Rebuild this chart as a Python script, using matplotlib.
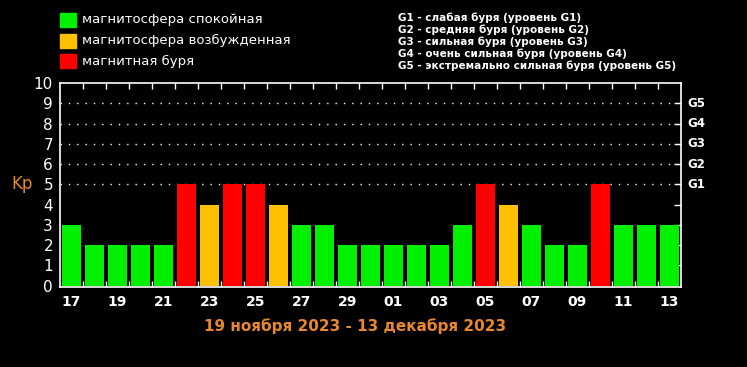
"""Kp index bar chart, 17 Nov - 13 Dec 2023."""

import matplotlib

matplotlib.use("Agg")
import matplotlib.pyplot as plt
from matplotlib.patches import Rectangle
from matplotlib.transforms import blended_transform_factory

days = ["17", "18", "19", "20", "21", "22", "23", "24", "25", "26", "27", "28", "29", "30",
        "01", "02", "03", "04", "05", "06", "07", "08", "09", "10", "11", "12", "13"]
kp = [3, 2, 2, 2, 2, 5, 4, 5, 5, 4, 3, 3, 2, 2,
      2, 2, 2, 3, 5, 4, 3, 2, 2, 5, 3, 3, 3]
legend_labels = ["магнитосфера спокойная", "магнитосфера возбужденная", "магнитная буря"]
storm_levels = ["G1", "G2", "G3", "G4", "G5"]
storm_notes = [
    "G1 - слабая буря (уровень G1)",
    "G2 - средняя буря (уровень G2)",
    "G3 - сильная буря (уровень G3)",
    "G4 - очень сильная буря (уровень G4)",
    "G5 - экстремально сильная буря (уровень G5)",
]
period = "19 ноября 2023 - 13 декабря 2023"

GREEN = "#00f000"
ORANGE = "#ffc000"
RED = "#ff0000"
TEXT_ORANGE = "#e8882a"


def bar_color(value):
    if value >= 5:
        return RED
    if value == 4:
        return ORANGE
    return GREEN


fig = plt.figure(figsize=(7.47, 3.67), dpi=100, facecolor="black")
ax = fig.add_axes([60 / 747, 80 / 367, 621 / 747, 204 / 367], facecolor="black")

x = list(range(len(days)))
ax.bar(x, kp, width=0.83, color=[bar_color(v) for v in kp], zorder=3)

ax.set_xlim(-0.5, len(days) - 0.5)
ax.set_ylim(-0.07, 10)

for level in range(5, 10):
    ax.axhline(level, color="white", linestyle=(0, (1, 5)), linewidth=1, zorder=1)

for side in ax.spines.values():
    side.set_color("white")
    side.set_linewidth(1.2)

# left y labels
ax.set_yticks(range(0, 11))
ax.set_yticklabels([str(v) for v in range(0, 11)], color="white", fontsize=11)
ax.tick_params(axis="y", length=0, pad=5)

# day labels under every other bar
ax.set_xticks(x[::2])
ax.set_xticklabels(days[::2], color="white", fontsize=10, fontweight="bold")
ax.tick_params(axis="x", length=0, pad=6)

# small inward ticks on bar boundaries (top and bottom) and on right side
bounds = [i + 0.5 for i in range(len(days) - 1)]
ax2 = ax.secondary_xaxis("top")
ax2.set_xticks(bounds)
ax2.set_xticklabels([])
ax2.tick_params(axis="x", direction="in", length=4, color="white", width=1)
ax2.spines["top"].set_visible(False)
ax3 = ax.secondary_xaxis("bottom")
ax3.set_xticks(bounds)
ax3.set_xticklabels([])
ax3.tick_params(axis="x", direction="in", length=4, color="white", width=1)
ax3.spines["bottom"].set_visible(False)
ax4 = ax.secondary_yaxis("right")
ax4.set_yticks(range(1, 10))
ax4.set_yticklabels([])
ax4.tick_params(axis="y", direction="in", length=5, color="white", width=1)
ax4.spines["right"].set_visible(False)

trans = blended_transform_factory(ax.transAxes, ax.transData)
for level, name in zip(range(5, 10), storm_levels):
    ax.text(1.01, level, name, transform=trans, color="white", fontsize=8.5,
            fontweight="bold", va="center", ha="left")

ax.text(-0.044, 5, "Kp", transform=trans, color=TEXT_ORANGE, fontsize=12,
        va="center", ha="right")

# legend
for i, (label, color) in enumerate(zip(legend_labels, [GREEN, ORANGE, RED])):
    y = 1 - (13 + i * 20.5) / 367
    fig.patches.append(Rectangle((60 / 747, y - 14 / 367), 16 / 747, 14 / 367,
                                 transform=fig.transFigure, color=color))
    fig.text(82 / 747, y - 7 / 367, label, color="white", fontsize=9.5, va="center")

for i, note in enumerate(storm_notes):
    fig.text(398 / 747, 1 - (18 + i * 12) / 367, note, color="white", fontsize=7.5,
             fontweight="bold", va="center")

fig.text(355 / 747, 1 - 326 / 367, period, color=TEXT_ORANGE, fontsize=11,
         fontweight="bold", ha="center", va="center")

fig.savefig("out.png", dpi=100, facecolor="black")
